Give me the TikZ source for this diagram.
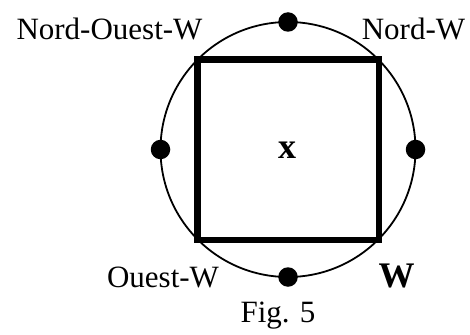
\documentclass[tikz,border=0pt]{standalone}
\usepackage{fontspec}
\setmainfont{Liberation Serif}
\begin{document}
\begin{tikzpicture}[x=1pt,y=-1pt,
  lbl/.style={anchor=base,inner sep=0pt,font=\fontsize{31}{36}\selectfont},
  bold/.style={lbl,font=\fontsize{36}{40}\selectfont\bfseries},
  dot/.style={circle,fill=black,inner sep=0pt,minimum size=19.5pt},
  ring/.style={line width=1.8pt},
  box/.style={line width=6.5pt}]
\useasboundingbox (0,0) rectangle (470,334);
\coordinate (c) at (288,149.5);
\draw[ring] (c) circle[radius=127.5];
\draw[box] (197.5,59.5) rectangle (379,240);
\node[dot] (top) at (288,22) {};
\node[dot] (bottom) at (288,277) {};
\node[dot] (left) at (160.5,149.5) {};
\node[dot] (right) at (415.5,149.5) {};
\node[lbl] (now) at (109.5,40) {Nord-Ouest-W};
\node[lbl] (nw) at (413.5,40) {Nord-W};
\node[lbl] (ow) at (163,287) {Ouest-W};
\node[bold] (w) at (396.5,287) {W};
\node[bold] (x) at (287,158) {x};
\node[lbl] (fig) at (278,322) {Fig. 5};
\end{tikzpicture}
\end{document}
